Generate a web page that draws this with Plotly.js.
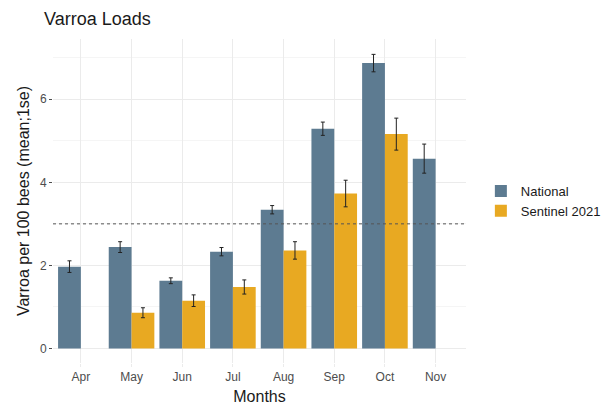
<!DOCTYPE html>
<html>
<head>
<meta charset="utf-8">
<script src="https://cdn.plot.ly/plotly-3.0.1.min.js"></script>
<style>html,body{margin:0;padding:0;background:#fff;}#chart{width:610px;height:406px;}</style>
</head>
<body>
<div id="chart"></div>
<script>
const months = ["Apr","May","Jun","Jul","Aug","Sep","Oct","Nov"];
const nationalMean = [1.97, 2.44, 1.63, 2.33, 3.34, 5.29, 6.87, 4.57];
const nationalSE   = [0.14, 0.13, 0.07, 0.10, 0.10, 0.16, 0.21, 0.35];
const sentinelMean = [null, 0.86, 1.15, 1.48, 2.36, 3.73, 5.16, null];
const sentinelSE   = [null, 0.12, 0.14, 0.17, 0.21, 0.32, 0.385, null];
const threshold = 3;

const errStyle = {type:'data', visible:true, color:'#222222', thickness:1, width:2};

const traces = [
  {type:'bar', name:'National', x:months, y:nationalMean,
   marker:{color:'#5D7B91'},
   error_y:Object.assign({array:nationalSE}, errStyle)},
  {type:'bar', name:'Sentinel 2021', x:months, y:sentinelMean,
   marker:{color:'#E8A922'},
   error_y:Object.assign({array:sentinelSE}, errStyle)}
];

const layout = {
  width:610, height:406,
  margin:{l:53, r:144, t:39, b:43, autoexpand:false},
  paper_bgcolor:'#fff', plot_bgcolor:'#fff',
  font:{family:'Liberation Sans, Arial, sans-serif', color:'#4d4d4d'},
  barmode:'group', bargap:0.1, bargroupgap:0,
  title:{text:'Varroa Loads', x:0, xref:'paper', xanchor:'left', y:0.97, yref:'container', yanchor:'top',
         font:{size:18, color:'#1a1a1a'}, pad:{l:-9}},
  xaxis:{
    range:[-0.55, 7.6], showgrid:true, gridcolor:'#ebebeb', gridwidth:1,
    zeroline:false, showline:false,
    ticks:'outside', ticklen:3, tickcolor:'#ebebeb',
    tickfont:{size:12, color:'#4d4d4d'},
    title:{text:'Months', font:{size:16, color:'#1a1a1a'}, standoff:7}
  },
  yaxis:{
    range:[-0.35, 7.45], dtick:2, tick0:0, showgrid:true, gridcolor:'#ebebeb', gridwidth:1,
    minor:{dtick:1, tick0:0, showgrid:true, gridcolor:'#f5f5f5', gridwidth:1},
    zeroline:false, showline:false,
    ticks:'outside', ticklen:3, tickcolor:'#4d4d4d',
    tickfont:{size:12, color:'#4d4d4d'},
    title:{text:'Varroa per 100 bees (mean;1se)', font:{size:16, color:'#1a1a1a'}, standoff:6}
  },
  shapes:[{type:'line', xref:'paper', x0:0, x1:1, yref:'y', y0:threshold, y1:threshold,
           line:{color:'#555555', width:1, dash:'dot'}}],
  legend:{x:1.036, y:0.5, xanchor:'left', yanchor:'middle', font:{size:13, color:'#1a1a1a'},
          traceorder:'normal', itemwidth:30, tracegroupgap:0, bgcolor:'rgba(0,0,0,0)'},
  showlegend:true
};

Plotly.newPlot('chart', traces, layout, {displayModeBar:false, staticPlot:true});
</script>
</body>
</html>
